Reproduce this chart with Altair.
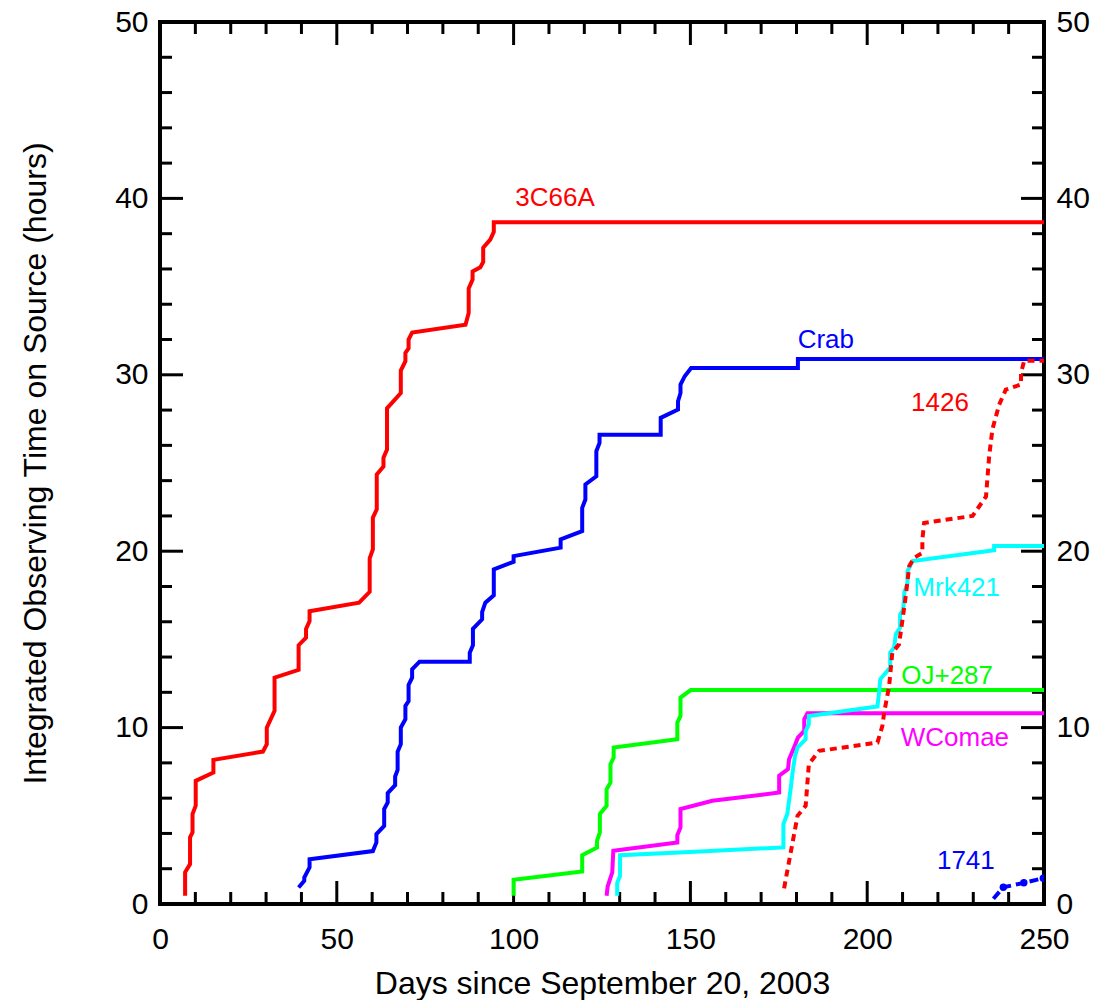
import altair as alt
import pandas as pd

W, H = 884, 882

# ---- data ----
c3c66a_day = [7.1, 7.1, 8.5, 8.5, 9.2, 9.2, 10.1, 10.1, 15.1, 15.1, 29.1, 30.2, 30.2, 32.4, 32.4,
              39.2, 39.2, 41.3, 41.3, 42.3, 42.3, 56.3, 59.3, 59.3, 60.2, 60.2, 61.3, 61.3, 63.2,
              63.2, 64.2, 64.2, 68.1, 68.1, 69.4, 69.4, 70.3, 70.3, 71.3, 86.4, 87.3, 87.3, 88.4,
              88.4, 90.6, 91.4, 91.4, 93.4, 94.4, 94.4, 250]
c3c66a_hrs = [0.47, 1.8, 2.26, 3.78, 4.06, 5.1, 5.57, 6.98, 7.45, 8.17, 8.64, 9.06, 10.0, 10.95, 12.83,
              13.27, 14.67, 15.1, 15.6, 16.04, 16.6, 17.08, 17.7, 19.6, 20.1, 21.9, 22.37, 24.35, 24.8,
              25.3, 25.76, 28.1, 28.97, 30.24, 30.77, 31.24, 31.5, 32.0, 32.4, 32.84, 33.5, 34.9, 35.4,
              35.86, 36.1, 36.4, 37.2, 37.66, 38.1, 38.65, 38.65]

crab_day = [39.2, 40.8, 40.8, 42.3, 42.3, 60.2, 61.2, 61.2, 63.4, 63.4, 64.4, 64.4, 66.5, 66.5, 67.2,
            67.2, 68.1, 68.1, 69.4, 69.4, 70.3, 70.3, 71.3, 71.3, 73.4, 87.6, 87.6, 88.5, 88.5, 91.1,
            91.1, 92.0, 94.4, 94.4, 100.0, 100.0, 113.3, 113.3, 119.4, 119.4, 120.3, 120.3, 123.4,
            123.4, 124.3, 124.3, 141.6, 141.6, 146.5, 146.5, 147.2, 147.2, 148.4, 150.2, 180.4,
            180.4, 250]
crab_hrs = [0.94, 1.32, 1.5, 2.08, 2.54, 3.0, 3.49, 3.96, 4.43, 5.38, 5.75, 6.29, 6.74, 7.23, 7.6,
            8.64, 9.06, 10.0, 10.48, 11.23, 11.5, 12.42, 12.83, 13.3, 13.74, 13.74, 14.25, 14.67, 15.6,
            16.14, 16.55, 17.08, 17.5, 18.97, 19.4, 19.72, 20.2, 20.67, 21.14, 22.46, 22.93, 23.78,
            24.25, 25.67, 26.14, 26.6, 26.6, 27.56, 28.03, 28.5, 28.97, 29.45, 29.92, 30.38, 30.38,
            30.9, 30.9]

oj_day = [100.0, 100.0, 119.4, 119.4, 123.6, 123.6, 124.4, 124.4, 126.3, 126.3, 127.4, 127.4, 128.3,
          128.3, 146.3, 146.3, 147.2, 147.2, 150.1, 250]
oj_hrs = [0.47, 1.38, 1.85, 2.77, 3.2, 3.6, 4.06, 5.1, 5.57, 6.51, 6.89, 7.93, 8.3, 8.87, 9.34, 10.28,
          10.66, 11.7, 12.13, 12.13]

wcom_day = [126.3, 126.6, 127.9, 128.2, 146.3, 146.3, 147.2, 147.2, 156.2, 175.1, 175.1, 177.6, 177.9,
            179.3, 180.4, 182.2, 182.2, 183.1, 250]
wcom_hrs = [0.47, 1.0, 1.79, 3.02, 3.49, 3.9, 4.34, 5.38, 5.85, 6.32, 7.27, 7.64, 8.2, 8.87, 9.43,
            9.81, 10.47, 10.81, 10.81]

mrk_day = [129.3, 129.3, 130.1, 130.1, 152.9, 176.3, 176.3, 177.4, 178.4, 178.9, 179.6, 180.3, 182.6,
           182.6, 183.5, 183.5, 202.9, 203.4, 203.7, 206.5, 206.5, 207.6, 208.1, 209.3, 209.3, 210.2,
           210.5, 211.4, 211.4, 212.8, 235.9, 235.9, 250]
mrk_hrs = [0.47, 1.2, 1.6, 2.77, 2.98, 3.21, 4.53, 5.1, 6.6, 7.45, 8.4, 8.87, 9.34, 9.81, 10.19, 10.66,
           11.2, 12.08, 12.74, 13.4, 14.25, 14.53, 15.3, 15.67, 16.4, 16.7, 17.65, 18.2, 18.87, 19.44,
           20.06, 20.3, 20.3]

s1426_day = [176.5, 178.2, 180.3, 182.6, 183.1, 183.5, 186.4, 202.9, 204.3, 204.8, 206.2, 207.1, 209.0,
             210.0, 210.9, 211.9, 213.3, 215.6, 215.6, 216.1, 229.8, 233.6, 234.5, 235.4, 237.3,
             239.2, 243.5, 243.5, 244.4, 250]
s1426_hrs = [0.89, 2.74, 5.0, 5.57, 6.89, 7.93, 8.68, 9.15, 10.1, 10.85, 12.36, 14.25, 14.72, 16.14,
             17.46, 19.16, 19.63, 19.9, 20.67, 21.6, 22.0, 23.1, 25.4, 26.9, 28.3, 29.16, 29.45, 30.1,
             30.8, 30.8]

s1741_day = [235.7, 238.5, 244.3, 249.8]
s1741_hrs = [0.3, 0.95, 1.2, 1.46]
s1741_dot = [False, True, True, True]

label_text = ["3C66A", "Crab", "1426", "Mrk421", "OJ+287", "WComae", "1741"]
label_day = [111.7, 188.3, 220.6, 225.3, 222.6, 224.8, 227.9]
label_hrs = [40.0, 32.0, 28.4, 17.9, 12.9, 9.4, 2.44]
label_color = ["#ff0000", "#0000ff", "#ff0000", "#00ffff", "#00ff00", "#ff00ff", "#0000ff"]

x_major = [0, 50, 100, 150, 200, 250]
x_minor = [10, 20, 30, 40, 60, 70, 80, 90, 110, 120, 130, 140, 160, 170, 180, 190, 210, 220, 230, 240]
y_major = [0, 10, 20, 30, 40, 50]
y_minor = [2, 4, 6, 8, 12, 14, 16, 18, 22, 24, 26, 28, 32, 34, 36, 38, 42, 44, 46, 48]

FONT = "Liberation Sans"
xscale = alt.Scale(domain=[0, 250], nice=False, zero=False)
yscale = alt.Scale(domain=[0, 50], nice=False, zero=False)


def sdf(xs, ys):
    return pd.DataFrame({"day": xs, "hours": ys, "order": list(range(len(xs)))})


def line(xs, ys, color, dash=None):
    kw = dict(color=color, strokeWidth=4, clip=True, strokeJoin="miter")
    if dash:
        kw["strokeDash"] = dash
    return alt.Chart(sdf(xs, ys)).mark_line(**kw).encode(
        x=alt.X("day:Q", scale=xscale, axis=None),
        y=alt.Y("hours:Q", scale=yscale, axis=None),
        order="order:Q",
    )


# ---- tick marks (inward) drawn as rules through the scales ----
def xticks(vals, length, bottom=True, axis=None):
    d = pd.DataFrame({"t": vals})
    y0 = H if bottom else 0
    y1 = H - length if bottom else length
    return alt.Chart(d).mark_rule(color="black", strokeWidth=3).encode(
        x=alt.X("t:Q", scale=xscale, axis=axis),
        y=alt.value(y0), y2=alt.value(y1),
    )


def yticks(vals, length, left=True, axis=None):
    d = pd.DataFrame({"t": vals})
    x0 = 0 if left else W
    x1 = length if left else W - length
    return alt.Chart(d).mark_rule(color="black", strokeWidth=3).encode(
        y=alt.Y("t:Q", scale=yscale, axis=axis),
        x=alt.value(x0), x2=alt.value(x1),
    )


common_axis = dict(ticks=False, domain=False, grid=False, labelFont=FONT, labelFontSize=30,
                   labelColor="black", titleFont=FONT, titleFontWeight="normal",
                   titleColor="black", labelFlush=False, labelOverlap=False, labelBound=False)

x_axis = alt.Axis(orient="bottom", values=x_major, title="Days since September 20, 2003",
                  labelPadding=20, titlePadding=14, titleFontSize=32, **common_axis)
y_axis_left = alt.Axis(orient="left", values=y_major,
                       title="Integrated Observing Time on Source (hours)",
                       labelPadding=12, titlePadding=62, titleFontSize=32, **common_axis)
y_axis_right = alt.Axis(orient="right", values=y_major, title=None, labelPadding=12, **common_axis)

ticks = [
    xticks(x_major, 23, True, axis=x_axis),
    xticks(x_minor, 12, True),
    xticks(x_major, 23, False),
    xticks(x_minor, 12, False),
    yticks(y_major, 23, True, axis=y_axis_left),
    yticks(y_minor, 12, True),
    yticks(y_major, 23, False, axis=y_axis_right),
    yticks(y_minor, 12, False),
]

curves = [
    line(c3c66a_day, c3c66a_hrs, "#ff0000"),
    line(crab_day, crab_hrs, "#0000ff"),
    line(oj_day, oj_hrs, "#00ff00"),
    line(wcom_day, wcom_hrs, "#ff00ff"),
    line(mrk_day, mrk_hrs, "#00ffff"),
    line(s1426_day, s1426_hrs, "#ff0000", dash=[7, 5]),
    line(s1741_day, s1741_hrs, "#0000ff", dash=[9, 5]),
]

d1741 = pd.DataFrame({"day": s1741_day, "hours": s1741_hrs, "dot": s1741_dot})
dots = alt.Chart(d1741).transform_filter("datum.dot").mark_circle(
    color="#0000ff", size=55, opacity=1, clip=True).encode(
    x=alt.X("day:Q", scale=xscale, axis=None),
    y=alt.Y("hours:Q", scale=yscale, axis=None),
)

ldf = pd.DataFrame({"label": label_text, "day": label_day, "hours": label_hrs, "color": label_color})
labels = alt.Chart(ldf).mark_text(font=FONT, fontSize=26, align="center", baseline="middle").encode(
    x=alt.X("day:Q", scale=xscale, axis=None),
    y=alt.Y("hours:Q", scale=yscale, axis=None),
    text="label:N",
    color=alt.Color("color:N", scale=None, legend=None),
)

chart = alt.layer(*ticks, *curves, dots, labels).resolve_axis(
    x="independent", y="independent").properties(
    width=W, height=H,
    autosize=alt.AutoSizeParams(type="none"),
    padding={"left": 160, "top": 22, "right": 52, "bottom": 96},
    background="white",
).configure_view(stroke="black", strokeWidth=4)

chart.save("out.html", embed_options={"renderer": "svg", "actions": False})
